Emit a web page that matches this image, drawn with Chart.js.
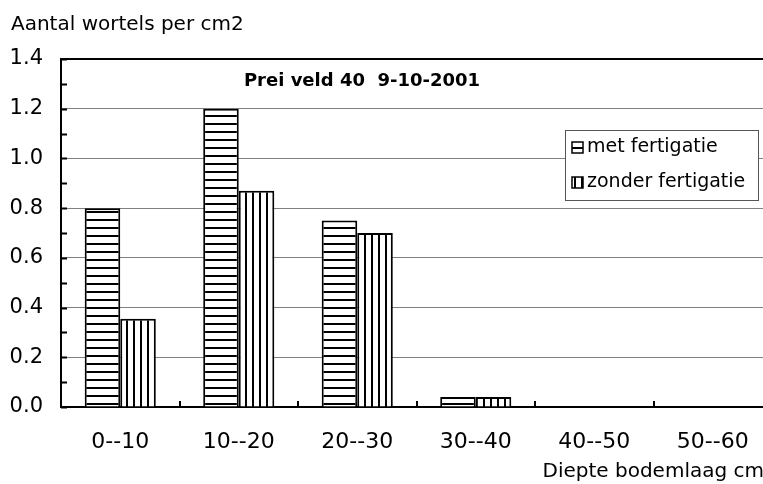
<!DOCTYPE html>
<html lang="nl">
<head>
    <meta charset="UTF-8">
    <title>Prei veld 40</title>
    <script src="https://cdn.jsdelivr.net/npm/chart.js"></script>
    <style>
        body {
            margin: 0;
            background: #fff;
            overflow: hidden;
        }
        canvas {
            display: block;
        }
    </style>
</head>
<body>
    <canvas id="wortelChart" width="780" height="484"></canvas>

    <script>
        // Dieptelagen en wortels per cm2
        const lagen = ["0--10", "10--20", "20--30", "30--40", "40--50", "50--60"];
        const metFertigatie = [0.80, 1.20, 0.75, 0.04, 0, 0];
        const zonderFertigatie = [0.355, 0.87, 0.70, 0.04, 0, 0];
        const yMax = 1.4;
        const yStap = 0.2;

        const titel = "Prei veld 40  9-10-2001";
        const yTitel = "Aantal wortels per cm2";
        const xTitel = "Diepte bodemlaag cm";
        const FONT = "'DejaVu Sans', sans-serif";

        Chart.defaults.font.family = FONT;
        Chart.defaults.color = "#000";

        // arcering: horizontale en verticale lijnen
        function arcering(horizontaal) {
            const c = document.createElement("canvas");
            c.width = horizontaal ? 8 : 7;
            c.height = horizontaal ? 8 : 7;
            const g = c.getContext("2d");
            g.fillStyle = "#fff";
            g.fillRect(0, 0, c.width, c.height);
            g.fillStyle = "#000";
            if (horizontaal) g.fillRect(0, 3, c.width, 2);
            else g.fillRect(0, 0, 2, c.height);
            return g.createPattern(c, "repeat");
        }
        const hLijnen = arcering(true);
        const vLijnen = arcering(false);

        // kleine streepjes langs de assen, titels en legenda
        const extras = {
            id: "extras",
            afterDraw(chart) {
                const ctx = chart.ctx;
                const area = chart.chartArea;
                const x = chart.scales.x;
                const y = chart.scales.y;
                ctx.save();

                ctx.strokeStyle = "#000";
                ctx.lineWidth = 2;
                ctx.beginPath();
                for (let v = 0; v <= yMax + 0.001; v += 0.1) {
                    const py = Math.round(y.getPixelForValue(v)) + 0.5;
                    ctx.moveTo(area.left, py);
                    ctx.lineTo(area.left + 6, py);
                }
                for (let i = 1; i < lagen.length; i++) {
                    const px = Math.round(x.getPixelForValue(i - 0.5));
                    ctx.moveTo(px, area.bottom);
                    ctx.lineTo(px, area.bottom - 6);
                }
                ctx.stroke();

                ctx.fillStyle = "#000";
                ctx.textBaseline = "alphabetic";
                ctx.font = "bold 18px " + FONT;
                ctx.textAlign = "center";
                ctx.fillText(titel, 362, 86);

                ctx.font = "20px " + FONT;
                ctx.textAlign = "left";
                ctx.fillText(yTitel, 11, 30);
                ctx.textAlign = "right";
                ctx.fillText(xTitel, 764, 477);

                // legenda
                const lx = 565, ly = 130, lw = 193, lh = 70;
                ctx.fillStyle = "#fff";
                ctx.fillRect(lx, ly, lw, lh);
                ctx.strokeStyle = "#555";
                ctx.lineWidth = 1;
                ctx.strokeRect(lx + 0.5, ly + 0.5, lw, lh);

                ctx.font = "19px " + FONT;
                ctx.textAlign = "left";
                ctx.textBaseline = "middle";
                chart.data.datasets.forEach((ds, i) => {
                    const cy = ly + 17 + i * 35;
                    ctx.fillStyle = ds.backgroundColor;
                    ctx.fillRect(572, cy - 5, 11, 11);
                    ctx.strokeStyle = "#000";
                    ctx.lineWidth = 1.5;
                    ctx.strokeRect(572, cy - 5, 11, 11);
                    ctx.fillStyle = "#000";
                    ctx.fillText(ds.label, 587, cy);
                });
                ctx.restore();
            }
        };

        new Chart(document.getElementById("wortelChart"), {
            type: "bar",
            data: {
                labels: lagen,
                datasets: [
                    {
                        label: "met fertigatie",
                        data: metFertigatie,
                        backgroundColor: hLijnen,
                        borderColor: "#000",
                        borderWidth: 2
                    },
                    {
                        label: "zonder fertigatie",
                        data: zonderFertigatie,
                        backgroundColor: vLijnen,
                        borderColor: "#000",
                        borderWidth: 2
                    }
                ]
            },
            options: {
                responsive: false,
                animation: false,
                devicePixelRatio: 1,
                layout: { padding: { top: 59, right: 8, left: 0, bottom: 0 } },
                categoryPercentage: 0.6,
                barPercentage: 1.0,
                plugins: {
                    legend: { display: false },
                    tooltip: { enabled: false }
                },
                scales: {
                    x: {
                        afterFit(scale) { scale.height = 77; },
                        grid: { drawOnChartArea: false, drawTicks: false },
                        border: { color: "#000", width: 2 },
                        ticks: { font: { size: 22 }, padding: 22, maxRotation: 0 }
                    },
                    y: {
                        min: 0,
                        max: yMax,
                        afterFit(scale) { scale.width = 61; },
                        grid: {
                            drawTicks: false,
                            color: ctx => Math.abs(ctx.tick.value - yMax) < 1e-6 ? "#000" : "#808080",
                            lineWidth: ctx => Math.abs(ctx.tick.value - yMax) < 1e-6 ? 2 : 1
                        },
                        border: { color: "#000", width: 2 },
                        ticks: {
                            stepSize: yStap,
                            padding: 18,
                            font: { size: 21 },
                            callback: v => v.toFixed(1)
                        }
                    }
                }
            },
            plugins: [extras]
        });
    </script>
</body>
</html>
